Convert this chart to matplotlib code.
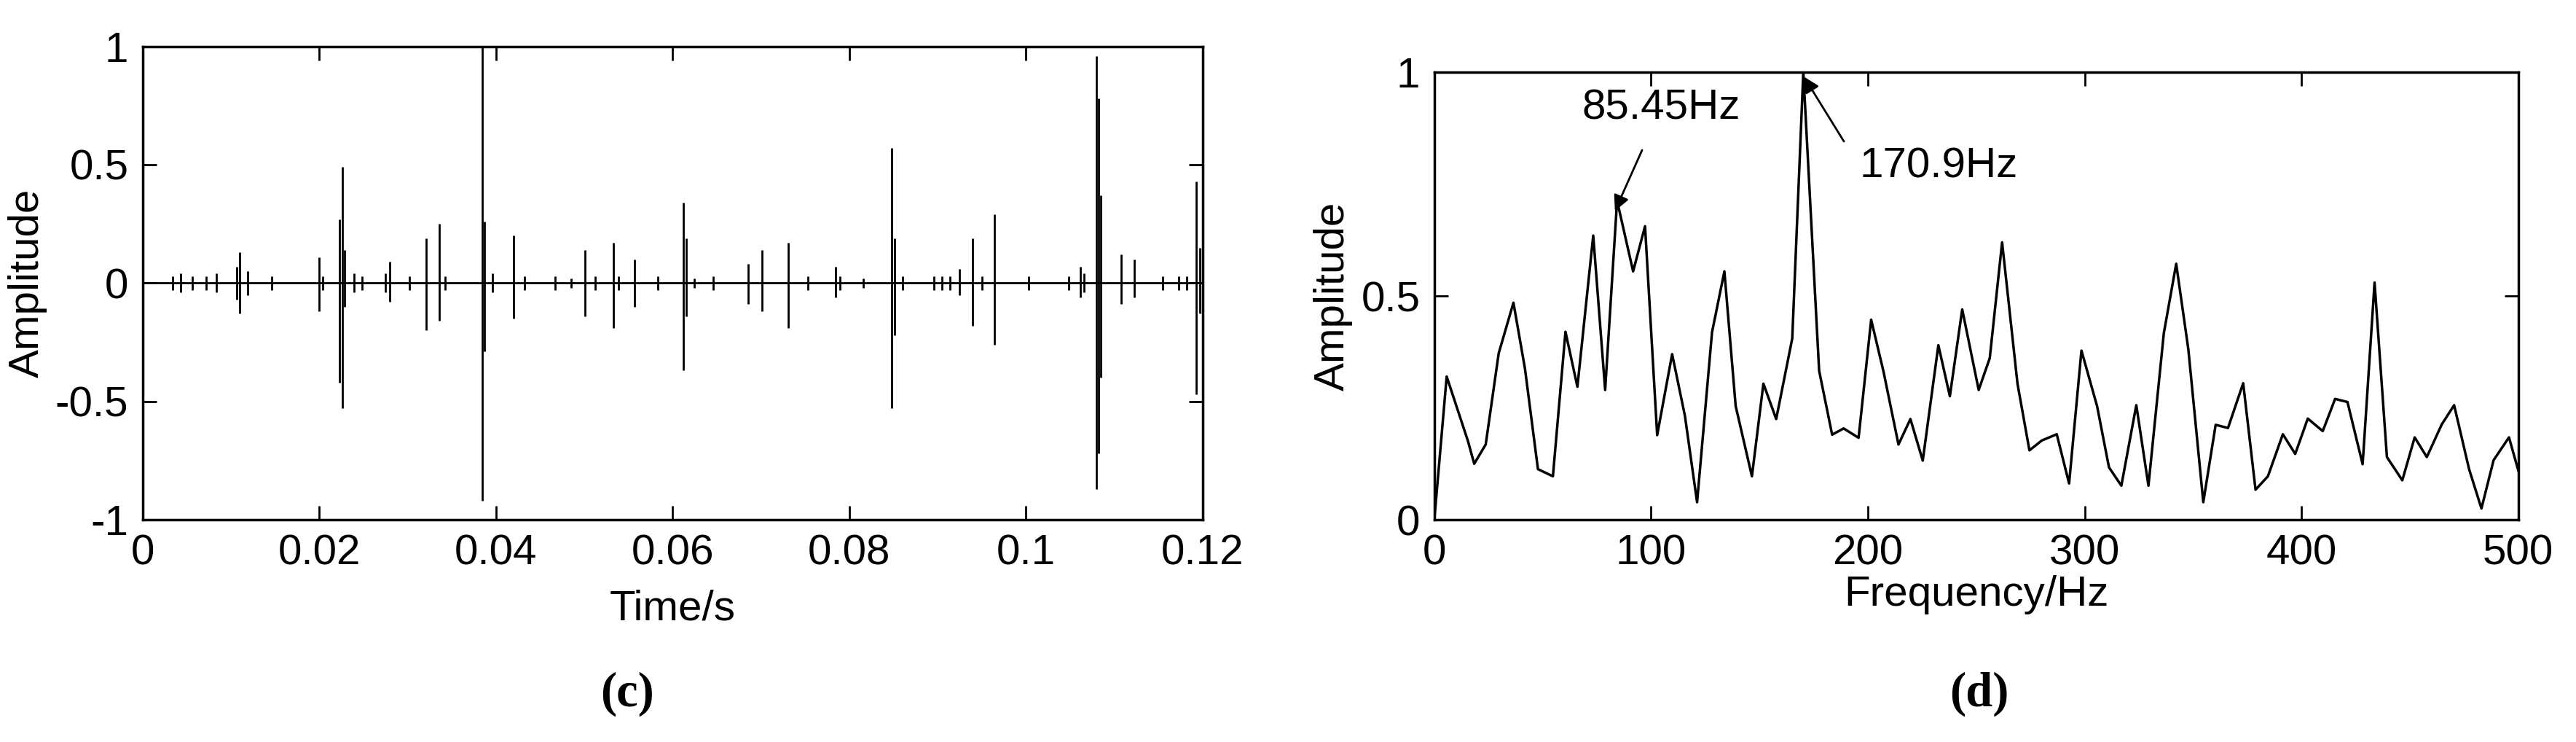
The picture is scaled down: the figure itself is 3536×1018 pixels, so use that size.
import matplotlib.pyplot as plt

plt.rcParams['font.family'] = ['Liberation Sans', 'DejaVu Sans']

# (c) time signal: main impulses (time, positive peak, negative peak)
spike_t = [0.01063, 0.0110, 0.01993, 0.02225, 0.02261, 0.02287, 0.02797, 0.03208, 0.0336,
           0.03842, 0.03869, 0.04199, 0.05003, 0.05325, 0.05567, 0.06121, 0.06157, 0.06853,
           0.07014, 0.07309, 0.07845, 0.0848, 0.08515, 0.09248, 0.09391, 0.09641, 0.10615,
           0.10794, 0.1082, 0.10847, 0.1108, 0.11222, 0.11928, 0.11964]
spike_hi = [0.07, 0.13, 0.11, 0.27, 0.49, 0.14, 0.09, 0.19, 0.25, 1.0, 0.26, 0.2, 0.14, 0.17,
            0.1, 0.34, 0.19, 0.08, 0.14, 0.17, 0.07, 0.57, 0.19, 0.06, 0.19, 0.29, 0.07, 0.96,
            0.78, 0.37, 0.12, 0.1, 0.43, 0.15]
spike_lo = [-0.07, -0.13, -0.12, -0.42, -0.53, -0.1, -0.08, -0.2, -0.16, -0.92, -0.29, -0.15,
            -0.14, -0.19, -0.1, -0.37, -0.14, -0.09, -0.12, -0.19, -0.06, -0.53, -0.22, -0.05,
            -0.18, -0.26, -0.06, -0.87, -0.72, -0.4, -0.09, -0.06, -0.47, -0.13]
# small ripples
small_t = [0.0034, 0.0043, 0.0056, 0.0072, 0.0083, 0.0119, 0.0146, 0.0204, 0.0239, 0.0248,
           0.0275, 0.0302, 0.0342, 0.0396, 0.0432, 0.0467, 0.0485, 0.0512, 0.0539, 0.0583,
           0.0624, 0.0646, 0.0753, 0.0789, 0.0816, 0.0860, 0.0896, 0.0905, 0.0914, 0.0950,
           0.1003, 0.1048, 0.1066, 0.1155, 0.1173, 0.1182]
small_a = [0.03, 0.04, 0.03, 0.03, 0.04, 0.05, 0.03, 0.03, 0.04, 0.03, 0.04, 0.03, 0.03, 0.04,
           0.03, 0.03, 0.02, 0.03, 0.03, 0.03, 0.02, 0.03, 0.03, 0.03, 0.02, 0.03, 0.03, 0.03,
           0.03, 0.03, 0.03, 0.03, 0.04, 0.03, 0.03, 0.03]

# (d) envelope spectrum
freq = [0, 5.7, 15.5, 18.4, 23.7, 29.7, 36.5, 41.8, 47.8, 54.7, 60.5, 66, 73.3, 78.8, 84.3,
        91.7, 97.2, 102.8, 109.7, 115.6, 121.2, 128.1, 133.8, 139, 146.5, 151.8, 157.7, 165.1,
        170.2, 177.5, 183.5, 188.8, 195.7, 201.5, 207.2, 214.1, 219.6, 225.3, 232.5, 237.8,
        243.5, 251.1, 256.2, 261.9, 269, 274.5, 280.2, 287.1, 292.8, 298.5, 305.7, 311.2,
        316.9, 323.8, 329.4, 336.5, 342.2, 347.8, 354.7, 360.4, 366.1, 373.1, 378.8, 384.5,
        391.4, 397.1, 402.9, 409.8, 415.5, 421.2, 428.2, 433.7, 439.4, 446.5, 452.2, 457.8,
        464.7, 470.4, 477.3, 483, 488.6, 495.7, 500]
amp = [0, 0.32, 0.176, 0.125, 0.168, 0.372, 0.485, 0.338, 0.113, 0.097, 0.42, 0.297, 0.635,
       0.29, 0.713, 0.555, 0.656, 0.189, 0.37, 0.232, 0.039, 0.419, 0.555, 0.254, 0.097, 0.304,
       0.225, 0.405, 1.0, 0.333, 0.19, 0.204, 0.183, 0.447, 0.331, 0.168, 0.225, 0.132, 0.39,
       0.276, 0.47, 0.29, 0.361, 0.62, 0.304, 0.155, 0.177, 0.191, 0.081, 0.378, 0.254, 0.117,
       0.076, 0.256, 0.076, 0.417, 0.572, 0.381, 0.039, 0.212, 0.205, 0.305, 0.067, 0.097,
       0.191, 0.147, 0.226, 0.198, 0.27, 0.263, 0.124, 0.53, 0.14, 0.088, 0.184, 0.14, 0.213,
       0.256, 0.113, 0.025, 0.133, 0.184, 0.11]

fig = plt.figure(figsize=(35.36, 10.18), dpi=100)
ax1 = fig.add_axes([0.0554, 0.2996, 0.4115, 0.638])
ax2 = fig.add_axes([0.5568, 0.2996, 0.4208, 0.603])

fs = 42
ax1.plot([0, 0.12], [0, 0], color='black', lw=2)
ax1.vlines(spike_t, spike_lo, spike_hi, color='black', lw=2)
ax1.vlines(small_t, [-a for a in small_a], small_a, color='black', lw=2)
ax1.set_xlim(0, 0.12)
ax1.set_ylim(-1, 1)
ax1.set_xticks([0, 0.02, 0.04, 0.06, 0.08, 0.1, 0.12])
ax1.set_xticklabels(['0', '0.02', '0.04', '0.06', '0.08', '0.1', '0.12'])
ax1.set_yticks([-1, -0.5, 0, 0.5, 1])
ax1.set_yticklabels(['-1', '-0.5', '0', '0.5', '1'])
ax1.set_xlabel('Time/s', fontsize=fs, labelpad=16)
ax1.set_ylabel('Amplitude', fontsize=fs, labelpad=8)

ax2.plot(freq, amp, color='black', lw=2.5)
ax2.set_xlim(0, 500)
ax2.set_ylim(0, 1)
ax2.set_xticks([0, 100, 200, 300, 400, 500])
ax2.set_yticks([0, 0.5, 1])
ax2.set_yticklabels(['0', '0.5', '1'])
ax2.set_xlabel('Frequency/Hz', fontsize=fs, labelpad=2)
ax2.set_ylabel('Amplitude', fontsize=fs, labelpad=8)
ax2.annotate('85.45Hz', xy=(83.3, 0.69), xytext=(104.5, 0.92), fontsize=fs, ha='center', va='center',
             arrowprops=dict(arrowstyle='-|>', color='black', lw=2, mutation_scale=32, shrinkA=22,
                             shrinkB=0))
ax2.annotate('170.9Hz', xy=(170.5, 0.99), xytext=(196, 0.79), fontsize=fs, ha='left', va='center',
             arrowprops=dict(arrowstyle='-|>', color='black', lw=2, mutation_scale=32, shrinkA=25,
                             shrinkB=0, relpos=(0, 0.5)))

for ax in (ax1, ax2):
    ax.tick_params(direction='in', top=True, right=True, length=14, width=2, labelsize=fs, pad=14)
    for s in ax.spines.values():
        s.set_linewidth(2.5)

fig.text(0.2435, 0.065, '(c)', fontsize=48, family='Liberation Serif', weight='bold',
         ha='center', va='center')
fig.text(0.7683, 0.065, '(d)', fontsize=48, family='Liberation Serif', weight='bold',
         ha='center', va='center')

fig.savefig('out.png', dpi=100, facecolor='white')
